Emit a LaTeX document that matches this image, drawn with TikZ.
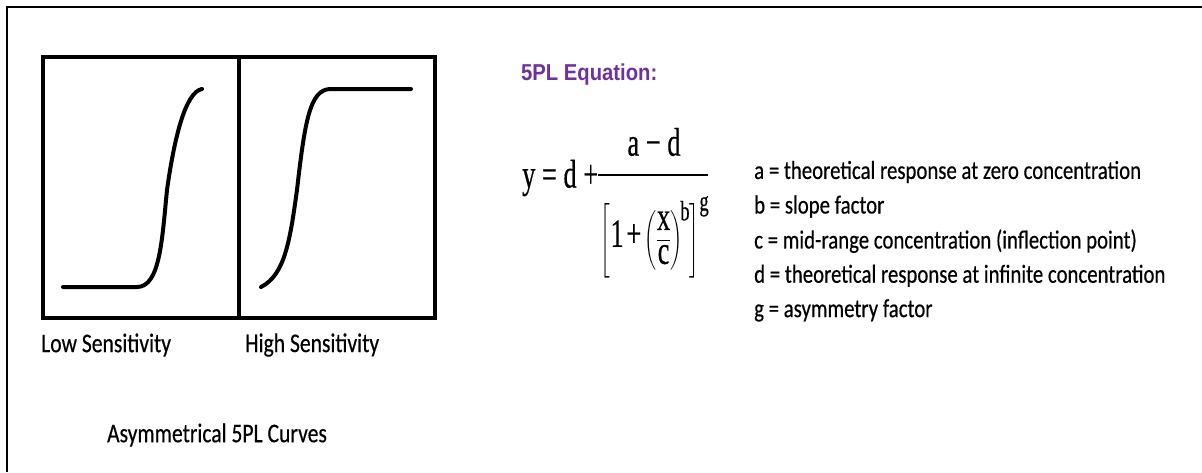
\documentclass[tikz,border=0pt]{standalone}
\usepackage{fontspec}
\usepackage{amsmath}
\usepackage{graphicx}
\setmainfont{Carlito}[FakeStretch=0.8,FakeBold=0.4]
\newfontfamily\headfont{Liberation Sans}[FakeStretch=0.88]
\newfontfamily\eqfont{Liberation Serif}[FakeBold=0.6]
\usetikzlibrary{positioning,calc}
\definecolor{headpurple}{HTML}{7030A0}
\newcommand{\squeeze}[1]{\scalebox{0.66}[1]{#1}}

\begin{document}
\begin{tikzpicture}[x=1pt,y=-1pt,
  lbl/.style={anchor=west,inner sep=0pt,font=\fontsize{26}{30}\selectfont},
  capt/.style={anchor=west,inner sep=0pt,font=\fontsize{27}{30}\selectfont},
  eqtxt/.style={inner sep=0pt,font=\eqfont\fontsize{40}{46}\selectfont},
  curve/.style={line width=4pt,line cap=round,line join=round},
  panel/.style={line width=4.5pt}]
\useasboundingbox (0,0) rectangle (1202,472);
% outer border
\draw[line width=2pt] (7,472) -- (7,7) -- (1202,7);
% plot panels
\draw[panel] (43,57) rectangle (435,318);
\draw[panel] (239,57) -- (239,318);
\draw[curve] (63,287) -- (137,287) .. controls (160,287) and (162,240) .. (167,190)
  .. controls (174,140) and (185,92) .. (202,89);
\draw[curve] (261,287) .. controls (285,275) and (290,240) .. (297,190)
  .. controls (305,120) and (310,90) .. (330,89) -- (411,89);
\node[capt] (low) at (41,345) {Low Sensitivity};
\node[capt] (high) at (245,345) {High Sensitivity};
\node[capt,anchor=center] (title) at (217,435) {Asymmetrical 5PL Curves};
% equation
\node[anchor=west,inner sep=0pt,text=headpurple,font=\headfont\bfseries\fontsize{23}{26}\selectfont] (eqhead) at (521,75) {5PL Equation:};
\node[eqtxt,anchor=west] (lhs) at (522,178) {\squeeze{y = d +}};
\node[eqtxt] (num) at (654,142) {\squeeze{a − d}};
\draw[line width=2pt] (598,175) -- (708,175);
\node[eqtxt] (den) at (655,237)
  {\squeeze{$\left[\text{1}\,\text{+}\left(\dfrac{\text{x}}{\text{c}}\right)^{\!\text{b}}\right]^{\text{g}}$}};
% parameter list
\foreach \i/\desc in {
  0/{a = theoretical response at zero concentration},
  1/{b = slope factor},
  2/{c = mid-range concentration (inflection point)},
  3/{d = theoretical response at infinite concentration},
  4/{g = asymmetry factor}}{
  \node[lbl] (par\i) at (754,{172+34.6*\i}) {\desc};
}
\end{tikzpicture}
\end{document}
